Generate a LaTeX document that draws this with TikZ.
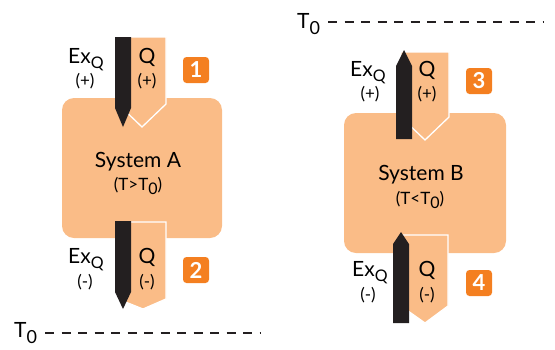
\documentclass[tikz,border=0pt]{standalone}
\usepackage{fontspec}
\setmainfont{Lato}
\definecolor{peach}{HTML}{FABC87}
\definecolor{badge}{HTML}{F47F20}
\definecolor{ink}{HTML}{231F20}
\tikzset{
  sysbox/.style={fill=peach, rounded corners=12pt, draw=none},
  qarrow/.style={fill=peach, draw=white, line width=1.3pt, line join=miter},
  exarrow/.style={fill=ink, draw=none},
  bignum/.style={fill=badge, rounded corners=3.5pt, minimum width=26pt, minimum height=26pt, inner sep=0pt, text=white, font=\fontsize{22}{22}\selectfont\bfseries},
  lbl/.style={inner sep=0pt, font=\fontsize{21}{21}\selectfont},
  sgn/.style={inner sep=0pt, font=\fontsize{17}{17}\selectfont},
  tline/.style={line width=2.8pt, dash pattern=on 9pt off 7.5pt, ink},
}
\newcommand{\ExQ}{Ex\raisebox{-5pt}{\fontsize{16}{16}\selectfont Q}}
\newcommand{\Tnull}{T\raisebox{-6pt}{\fontsize{18}{18}\selectfont 0}}
\newcommand{\Tnsm}{T\raisebox{-4pt}{\fontsize{16}{16}\selectfont 0}}
\begin{document}
\begin{tikzpicture}[x=1pt,y=-1pt]
\useasboundingbox (0,0) rectangle (555,349);
% System A
\path[sysbox] (62,98) rectangle (222,238);
\node[lbl, anchor=base] (sysA) at (138,167) {System A};
\node[sgn, anchor=center] (condA) at (138,186) {(T>\Tnsm)};
% arrow 1
\path[qarrow] (118,37) -- (166,37) -- (166,104) -- (142,127) -- (118,104) -- cycle;
\path[exarrow] (115,37) -- (131,37) -- (131,108) -- (123,127) -- (115,108) -- cycle;
\node[lbl, anchor=base west] (ex1) at (68,63) {\ExQ};
\node[sgn] (ex1s) at (85,81) {(+)};
\node[lbl, anchor=base] (q1) at (147,63) {Q};
\node[sgn] (q1s) at (147,81) {(+)};
\node[bignum] (n1) at (196,70) {1};
% arrow 2
\path[qarrow] (118,222) -- (166,222) -- (166,299) -- (143,309) -- (118,299) -- cycle;
\path[exarrow] (115,221) -- (131,221) -- (131,292) -- (123,309) -- (115,292) -- cycle;
\node[lbl, anchor=base west] (ex2) at (68,263) {\ExQ};
\node[sgn] (ex2s) at (85,282) {(-)};
\node[lbl, anchor=base] (q2) at (147,263) {Q};
\node[sgn] (q2s) at (147,282) {(-)};
\node[bignum] (n2) at (196,270) {2};
% T0 bottom
\node[lbl, anchor=base west] (t0a) at (14,337) {\Tnull};
\coordinate (da1) at (45,333);
\coordinate (da2) at (261,333);
\draw[tline] (da1) -- (da2);
% System B
\path[sysbox] (344,113) rectangle (506,253);
\node[lbl, anchor=base] (sysB) at (421,180) {System B};
\node[sgn, anchor=center] (condB) at (420,200) {(T<\Tnsm)};
% arrow 3
\path[qarrow] (401,52) -- (449,52) -- (449,117) -- (425,140) -- (401,117) -- cycle;
\path[exarrow] (404,50) -- (412,66) -- (412,139) -- (396,139) -- (396,66) -- cycle;
\node[lbl, anchor=base west] (ex3) at (350,76) {\ExQ};
\node[sgn] (ex3s) at (370,94) {(+)};
\node[lbl, anchor=base] (q3) at (427,76) {Q};
\node[sgn] (q3s) at (427,94) {(+)};
\node[bignum] (n3) at (479,81) {3};
% arrow 4
\path[qarrow] (401,235) -- (448,235) -- (448,306) -- (425,323) -- (401,306) -- cycle;
\path[exarrow] (401,232) -- (409,244) -- (409,323) -- (393,323) -- (393,244) -- cycle;
\node[lbl, anchor=base west] (ex4) at (352,276) {\ExQ};
\node[sgn] (ex4s) at (368,295) {(-)};
\node[lbl, anchor=base] (q4) at (427,276) {Q};
\node[sgn] (q4s) at (427,295) {(-)};
\node[bignum] (n4) at (479,283) {4};
% T0 top
\node[lbl, anchor=base west] (t0b) at (297,28) {\Tnull};
\coordinate (db1) at (328,22);
\coordinate (db2) at (544,22);
\draw[tline] (db1) -- (db2);
\end{tikzpicture}
\end{document}
